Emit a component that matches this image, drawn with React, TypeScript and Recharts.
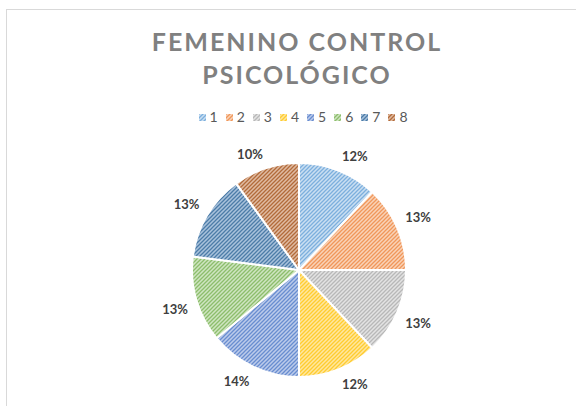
import { Pie, PieChart } from "recharts";

const categories = ["1", "2", "3", "4", "5", "6", "7", "8"];
const shares = [12, 13, 13, 12, 14, 13, 13, 10];
const baseColors = ["#5B9BD5", "#ED7D31", "#A5A5A5", "#FFC000", "#4472C4", "#70AD47", "#255E91", "#9E480E"];
const lightColors = ["#cadff2", "#f9d3b8", "#e3e3e3", "#ffe79f", "#bccbeb", "#cfe5c1", "#a9c2dc", "#e0bba2"];

const data = categories.map((name, i) => ({
  name,
  value: shares[i],
  fill: `url(#hatch${i})`,
}));

const RADIAN = Math.PI / 180;

// place the label box just outside the slice, like Excel's "outside end"
const renderLabel = (props: any) => {
  const { cx, cy, midAngle, outerRadius, value } = props;
  const r = outerRadius + 8;
  const dx = Math.cos(-midAngle * RADIAN);
  const dy = Math.sin(-midAngle * RADIAN);
  const x = cx + r * dx + Math.sign(dx) * 13.5;
  const y = cy + r * dy + Math.sign(dy) * 7;
  return (
    <text
      x={x}
      y={y}
      textAnchor="middle"
      dominantBaseline="central"
      fill="#404040"
      fontSize={13}
      fontWeight="bold"
      fontFamily="Lato, sans-serif"
    >
      {`${value}%`}
    </text>
  );
};

const LegendRow = () => (
  <div
    style={{
      position: "absolute",
      left: 0,
      top: 108,
      width: 606,
      display: "flex",
      justifyContent: "center",
      fontFamily: "Lato, sans-serif",
      fontSize: 14,
      color: "#595959",
      lineHeight: "18px",
    }}
  >
    {categories.map((c, i) => (
      <span key={c} style={{ display: "flex", alignItems: "center", marginRight: i < 7 ? 8 : 0 }}>
        <svg width={7} height={7} style={{ marginRight: 4 }}>
          <rect width={7} height={7} fill={`url(#hatch${i})`} />
        </svg>
        {c}
      </span>
    ))}
  </div>
);

export default function App() {
  return (
    <div
      style={{
        position: "fixed",
        left: 0,
        top: 0,
        width: 576,
        height: 406,
        background: "#fff",
        overflow: "hidden",
      }}
    >
      {/* chart frame */}
      <div
        style={{
          position: "absolute",
          left: 6,
          top: 9,
          width: 600,
          height: 420,
          border: "1px solid #d9d9d9",
        }}
      />
      <div
        style={{
          position: "absolute",
          left: 0,
          top: 25,
          width: 594,
          textAlign: "center",
          fontFamily: "Lato, sans-serif",
          fontWeight: "bold",
          fontSize: 25,
          letterSpacing: 2,
          lineHeight: "33px",
          color: "#808080",
        }}
      >
        FEMENINO CONTROL
        <br />
        PSICOLÓGICO
      </div>
      <div style={{ position: "absolute", left: 0, top: 0 }}>
        <PieChart width={596} height={406} margin={{ top: 0, right: 0, bottom: 0, left: 0 }}>
          <defs>
            {baseColors.map((c, i) => (
              <pattern
                key={i}
                id={`hatch${i}`}
                patternUnits="userSpaceOnUse"
                width={4}
                height={4}
              >
                <rect width={4} height={4} fill={lightColors[i]} />
                <path
                  d="M-1,1 l2,-2 M0,4 l4,-4 M3,5 l2,-2"
                  stroke={c}
                  strokeWidth={1.3}
                  opacity={0.7}
                />
              </pattern>
            ))}
          </defs>
          <Pie
            data={data}
            dataKey="value"
            nameKey="name"
            cx={299}
            cy={270}
            outerRadius={107}
            startAngle={90}
            endAngle={-270}
            stroke="#fff"
            strokeWidth={2}
            label={renderLabel}
            labelLine={false}
            isAnimationActive={false}
          />
        </PieChart>
      </div>
      <LegendRow />
    </div>
  );
}
